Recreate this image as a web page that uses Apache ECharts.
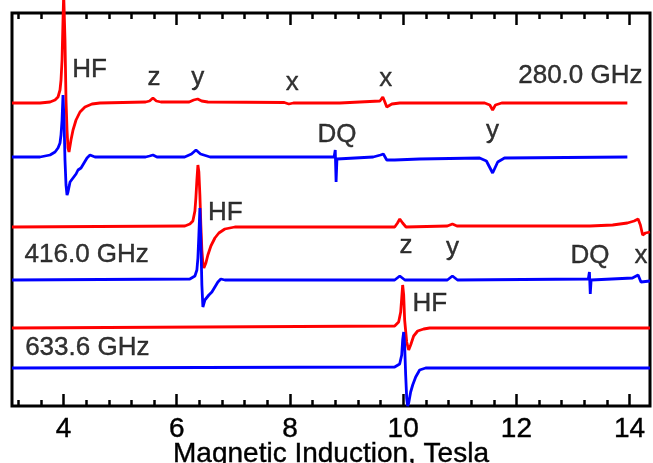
<!DOCTYPE html>
<html>
<head>
<meta charset="utf-8">
<script src="https://cdn.jsdelivr.net/npm/echarts@6/dist/echarts.min.js"></script>
<style>
html,body{margin:0;padding:0;background:#fff;}
#chart{width:653px;height:463px;}
</style>
</head>
<body>
<div id="chart"></div>
<script>
// Axis range (Tesla) and ticks
const X_MIN = 3.09;
const X_MAX = 14.36;
const Y_MIN = 0;
const Y_MAX = 393;
const majorTicks = [4, 6, 8, 10, 12, 14];
const minorTicks = [3.2, 3.6, 4.4, 4.8, 5.2, 5.6, 6.4, 6.8, 7.2, 7.6, 8.4, 8.8, 9.2, 9.6,
                    10.4, 10.8, 11.2, 11.6, 12.4, 12.8, 13.2, 13.6];

// 280.0 GHz spectra [field T, intensity a.u. (offset included)]
const red280 = [
  [3.09,303],[3.585,303],[3.762,304],[3.850,306],[3.903,309],[3.938,316],[3.956,326],[3.974,346],
  [3.991,386],[4.003,412],[4.026,366],[4.044,306],[4.062,276],[4.079,258],[4.097,254],[4.132,266],
  [4.168,276],[4.221,286],[4.291,294],[4.379,299],[4.503,302],[4.644,303],[5.45,304],[5.52,305],
  [5.58,308],[5.64,305],[5.72,304],[6.22,304],[6.30,306],[6.37,307],[6.44,305],[6.55,304],
  [7.90,303.5],[7.98,302],[8.06,303],[8.88,303],[9.59,305],[9.64,309],[9.67,305],[9.71,299],
  [9.80,302],[9.94,303],[11.44,303],[11.53,301],[11.58,296],[11.63,301],[11.74,303],[13.96,303]
];
const blue280 = [
  [3.09,249],[3.585,249],[3.762,251],[3.850,254],[3.903,258],[3.938,263],[3.956,271],[3.974,286],
  [3.991,311],[4.009,286],[4.026,246],[4.044,221],[4.062,211],[4.079,214],[4.115,224],[4.168,228],
  [4.221,232],[4.256,236],[4.309,238],[4.362,243],[4.415,248],[4.468,251],[4.503,252],[4.556,249],
  [4.644,249],[5.45,249],[5.52,250],[5.58,251],[5.65,249],[6.14,249],[6.26,252],[6.34,256],
  [6.42,252],[6.59,249],[8.78,249],[8.80,256],[8.815,224],[8.83,247],[8.86,249],[9.47,249],
  [9.60,251],[9.65,252],[9.71,246],[9.85,246],[10.29,247],[11.35,248],[11.47,245],[11.58,233],
  [11.67,244],[11.79,248],[13.96,249]
];

// 416.0 GHz spectra
const red416 = [
  [3.09,179],[6.144,180],[6.232,182],[6.285,185],[6.321,195],[6.338,208],[6.356,226],[6.374,241],
  [6.391,234],[6.409,211],[6.426,181],[6.444,156],[6.462,143],[6.479,138],[6.515,143],[6.550,151],
  [6.603,160],[6.674,168],[6.744,173],[6.850,177],[7.026,179],[9.85,179],[9.90,183],[9.94,187],
  [9.99,183],[10.05,179],[10.78,180],[10.87,182],[10.95,180],[13.30,180],[13.70,181],[13.96,183],
  [14.08,185],[14.15,187],[14.19,181],[14.23,171],[14.28,173],[14.36,174]
];
const blue416 = [
  [3.09,126],[6.232,127],[6.321,130],[6.356,136],[6.374,148],[6.391,171],[6.409,198],[6.426,166],
  [6.444,121],[6.462,99],[6.479,100],[6.497,106],[6.532,108],[6.568,111],[6.621,114],[6.674,119],
  [6.727,124],[6.779,127],[6.850,126],[9.85,126],[9.94,130],[10.03,126],[10.78,126],[10.87,130],
  [10.96,126],[13.27,127],[13.29,134],[13.305,112],[13.32,126],[13.34,127],[14.05,128],[14.15,131],
  [14.20,124],[14.36,125]
];

// 633.6 GHz spectra
const red634 = [
  [3.09,78],[9.85,80],[9.92,84],[9.956,94],[9.974,108],[9.991,121],[10.009,111],[10.026,86],
  [10.062,64],[10.097,56],[10.132,61],[10.185,70],[10.256,75],[10.362,77],[10.468,78],[14.36,78]
];
const blue634 = [
  [3.09,38],[9.85,39],[9.938,42],[9.974,51],[9.991,66],[10.009,74],[10.026,61],[10.044,31],
  [10.062,8],[10.079,0],[10.097,3],[10.132,14],[10.168,21],[10.221,29],[10.291,36],[10.397,38],
  [14.36,38]
];

// Annotation texts [field T, intensity, text]
const annotations = [
  [4.46,336,'HF'],[5.60,328,'z'],[6.37,328,'y'],[8.04,323,'x'],[9.69,327,'x'],[13.13,330,'280.0 GHz'],
  [8.83,271,'DQ'],[11.58,275,'y'],
  [6.86,193,'HF'],[4.41,151,'416.0 GHz'],[10.05,160,'z'],[10.87,158,'y'],[13.30,150,'DQ'],[14.20,150,'x'],
  [10.47,102,'HF'],[4.42,58,'633.6 GHz']
];

const FONT = 'Liberation Sans';
const chart = echarts.init(document.getElementById('chart'));

function lineSeries(data, color, clip) {
  return {
    type: 'line', data: data, showSymbol: false, symbol: 'none', clip: clip,
    lineStyle: {color: color, width: 2.8}, itemStyle: {color: color},
    animation: false, z: 3
  };
}

const tickAxis = (pos, values, len, labels) => ({
  type: 'value', position: pos, min: X_MIN, max: X_MAX, gridIndex: 0,
  axisLine: {show: false},
  axisTick: {show: true, inside: true, length: len, customValues: values,
             lineStyle: {color: '#000', width: 2.5}},
  axisLabel: labels ? {show: true, customValues: majorTicks, fontSize: 28, color: '#000',
                       fontFamily: FONT, margin: 9, textBorderColor: '#000', textBorderWidth: 0.4} : {show: false},
  splitLine: {show: false}
});

const xAxes = [
  Object.assign(tickAxis('bottom', majorTicks, 12, true), {
    name: 'Magnetic Induction, Tesla', nameLocation: 'middle', nameGap: 34, nameMoveOverlap: false,
    nameTextStyle: {fontSize: 28, color: '#000', fontFamily: FONT, textBorderColor: '#000', textBorderWidth: 0.4,
                    verticalAlign: 'top'}
  }),
  tickAxis('bottom', minorTicks, 6, false),
  tickAxis('top', majorTicks, 12, false),
  tickAxis('top', minorTicks, 6, false)
];

chart.setOption({
  animation: false,
  backgroundColor: '#fff',
  grid: {left: 12, right: 3, top: 13, bottom: 57, show: true, borderColor: '#000', borderWidth: 3,
         backgroundColor: 'transparent', containLabel: false, outerBoundsMode: 'none'},
  xAxis: xAxes,
  yAxis: {type: 'value', min: Y_MIN, max: Y_MAX, axisLine: {show: false}, axisTick: {show: false},
          axisLabel: {show: false}, splitLine: {show: false}},
  series: [
    lineSeries(red280, '#ff0000', false),
    lineSeries(blue280, '#0000ff', true),
    lineSeries(red416, '#ff0000', true),
    lineSeries(blue416, '#0000ff', true),
    lineSeries(red634, '#ff0000', true),
    lineSeries(blue634, '#0000ff', false),
    {
      type: 'scatter', data: annotations, symbolSize: 0, z: 5, silent: true,
      label: {show: true, position: 'inside', formatter: p => p.value[2],
              fontSize: 26, color: '#000', fontFamily: FONT, align: 'center', verticalAlign: 'middle',
              textBorderColor: '#000', textBorderWidth: 0.4}
    }
  ]
});
</script>
</body>
</html>
